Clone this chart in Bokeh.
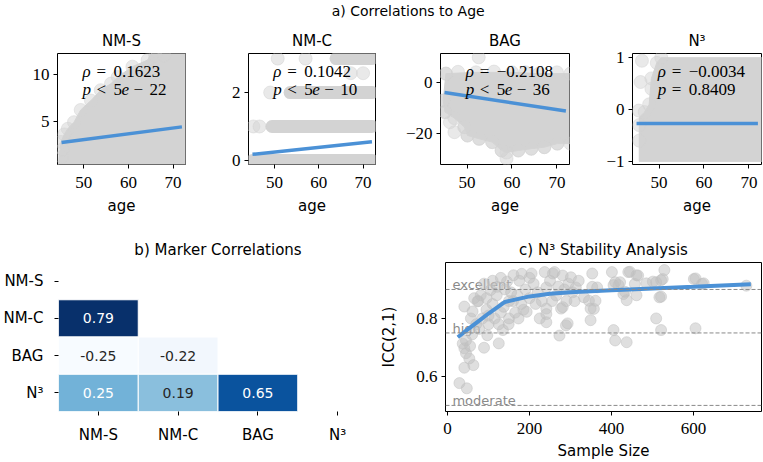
from bokeh.plotting import figure
from bokeh.layouts import column, row
from bokeh.models import Range1d, FixedTicker, FactorRange, LinearColorMapper, ColumnDataSource, Span
from bokeh.palettes import Blues256
from bokeh.core.properties import value
from bokeh.embed import file_html
from bokeh.resources import INLINE

SANS = "DejaVu Sans"
SERIF = "Liberation Serif"
GRAY = "#d3d3d3"
BLUE = "#4b91d6"

# ---------------- data: a) correlations to age ----------------
age_lim = (44.1, 72.8)
age_ticks = [50, 60, 70]

# NM-S: dense core outline and edge points
nms_core_x = [44.2, 44.9, 45.6, 46.4, 47.8, 49.3, 51.6, 53.8, 56.1, 57.6, 60.9, 64.3, 66.0, 73.0, 73.0]
nms_core_y = [0.0, 2.8, 3.6, 4.2, 4.9, 6.2, 7.2, 8.3, 9.0, 9.7, 10.8, 11.5, 13.0, 13.0, 0.0]
nms_pts_x = [44.9, 45.6, 46.4, 47.8, 49.3, 51.6, 53.8, 56.1, 57.6, 60.9, 64.3, 66.0, 68.0, 45.0, 45.2]
nms_pts_y = [2.8, 3.6, 4.2, 4.9, 6.2, 7.2, 8.3, 9.0, 9.7, 10.8, 11.5, 12.0, 12.0, 1.2, 2.0]
nms_fit_x = [45.0, 72.0]
nms_fit_y = [2.75, 4.4]

# NM-C: discrete levels (bands of overlapping points) + single points
nmc_band_y = [0, 1, 2, 3]
nmc_band_x0 = [45.0, 49.4, 53.5, 63.9]
nmc_band_x1 = [72.0, 72.0, 72.0, 72.0]
nmc_pts_x = [45.2, 46.6, 49.0, 50.7, 57.0, 67.2, 70.0]
nmc_pts_y = [1, 1, 2, 3, 3, 2.57, 2.57]
nmc_fit_x = [45.0, 72.0]
nmc_fit_y = [0.18, 0.55]

# BAG
bag_core_x = [44.7, 45.3, 52.0, 60.0, 66.0, 73.0, 73.0, 70.1, 67.2, 64.3, 61.4, 58.8, 57.7, 55.6, 52.7, 50.1, 49.4, 47.2, 45.1]
bag_core_y = [-7.1, 3.5, 4.0, 4.0, 3.5, 3.5, -24.0, -24.0, -25.4, -26.0, -26.7, -27.5, -26.7, -23.4, -22.1, -20.8, -17.5, -14.0, -11.6]
bag_pts_x = [52.6, 46.2, 47.2, 49.4, 50.1, 52.7, 55.6, 57.7, 58.8, 61.4, 64.3, 67.2, 70.1, 44.7, 45.1, 45.3, 48.0, 56.0, 63.0, 70.0]
bag_pts_y = [9.9, -15.6, -19.5, -17.5, -20.8, -22.1, -23.4, -26.7, -29.9, -26.7, -26.0, -25.4, -24.0, -7.1, -11.6, 3.5, 4.2, 4.3, 4.0, 4.0]
bag_fit_x = [45.0, 72.0]
bag_fit_y = [-3.9, -11.2]

# N3
n3_core_x = [45.6, 45.6, 46.8, 47.8, 48.3, 49.5, 50.5, 73.0, 73.0]
n3_core_y = [-1.0, -0.15, -0.05, 0.1, 0.6, 0.9, 1.0, 1.0, -1.0]
n3_pts_x = [46.2, 45.9, 45.5, 45.6, 45.6, 46.8, 47.8, 48.3, 48.3, 49.5, 50.5]
n3_pts_y = [0.94, 0.53, -0.02, -0.6, -0.3, -0.05, 0.1, 0.4, 0.6, 0.9, 1.0]
n3_fit_x = [45.0, 72.0]
n3_fit_y = [-0.27, -0.27]

rho_vals = ["0.1623", "0.1042", "\u22120.2108", "\u22120.0034"]
p_rel = ["<", "<", "<", "="]
p_vals = ["22", "10", "36", "0.8409"]

# ---------------- data: b) marker correlations ----------------
markers = ["NM-S", "NM-C", "BAG", "N\u00b3"]
heat_row = ["NM-C", "BAG", "BAG", "N\u00b3", "N\u00b3", "N\u00b3"]
heat_col = ["NM-S", "NM-S", "NM-C", "NM-S", "NM-C", "BAG"]
heat_val = [0.79, -0.25, -0.22, 0.25, 0.19, 0.65]

# ---------------- data: c) stability ----------------
stab_n = [29, 47, 41, 63, 53, 45, 41, 37, 45, 55, 89, 125, 97, 77, 60,
          41, 61, 73, 81, 105, 89, 121, 145, 161, 181, 57, 70, 85, 95, 110, 100, 115, 130, 135, 150,
          149, 137, 160, 170, 173, 185, 193, 190, 200, 205, 210, 220, 225, 230, 237, 241, 241, 241, 241,
          250, 257, 261, 265, 270, 273, 277, 281, 281, 289, 293, 295, 301, 305, 313, 320, 333, 345, 349,
          349, 353, 353, 357, 361, 365, 75, 65, 95, 120, 140, 155, 175, 110, 130, 100, 150, 200, 215, 180,
          165, 125, 255, 285, 310, 290,
          401, 405, 417, 409, 421, 429, 433, 437, 441, 445, 457, 461, 461, 465, 485, 501, 509, 517, 521,
          521, 525, 529, 509, 521, 405, 409, 437, 601, 605, 621, 625, 605, 729]
stab_icc = [0.577, 0.559, 0.630, 0.639, 0.662, 0.680, 0.697, 0.713, 0.724, 0.705, 0.699, 0.714, 0.742, 0.764, 0.745,
            0.841, 0.824, 0.859, 0.880, 0.898, 0.920, 0.909, 0.927, 0.949, 0.954, 0.80, 0.78, 0.80, 0.83, 0.85, 0.78, 0.80, 0.82, 0.76, 0.80,
            0.78, 0.84, 0.86, 0.88, 0.80, 0.83, 0.823, 0.90, 0.87, 0.955, 0.92, 0.89, 0.80, 0.86, 0.96, 0.834, 0.815, 0.787, 0.907,
            0.93, 0.955, 0.96, 0.879, 0.91, 0.741, 0.834, 0.948, 0.839, 0.776, 0.783, 0.92, 0.942, 0.89, 0.907, 0.93, 0.873, 0.861, 0.794,
            0.834, 0.955, 0.909, 0.833, 0.861, 0.907, 0.86, 0.87, 0.87, 0.88, 0.90, 0.89, 0.93, 0.93, 0.94, 0.81, 0.86, 0.94, 0.85, 0.85,
            0.82, 0.78, 0.86, 0.90, 0.86, 0.86,
            0.960, 0.915, 0.915, 0.925, 0.925, 0.884, 0.892, 0.863, 0.96, 0.961, 0.919, 0.949, 0.880, 0.948, 0.921, 0.927, 0.925, 0.873, 0.875,
            0.932, 0.936, 0.967, 0.800, 0.760, 0.760, 0.724, 0.718, 0.936, 0.938, 0.919, 0.921, 0.766, 0.913]
mean_n = [25, 50, 75, 100, 140, 200, 250, 300, 400, 500, 600, 740]
mean_icc = [0.735, 0.763, 0.790, 0.817, 0.857, 0.876, 0.885, 0.890, 0.897, 0.903, 0.909, 0.918]
icc_levels = [0.9, 0.75, 0.5]
icc_names = ["excellent", "high", "moderate"]


def style(p, xticks=None, yticks=None, xover=None, yover=None, s1=8, s2=6):
    if xticks is not None:
        p.xaxis.ticker = FixedTicker(ticks=xticks)
    if yticks is not None:
        p.yaxis.ticker = FixedTicker(ticks=yticks)
    if xover:
        p.xaxis.major_label_overrides = xover
    if yover:
        p.yaxis.major_label_overrides = yover
    for ax in p.axis:
        ax.major_tick_out = 4
        ax.major_tick_in = 0
        ax.minor_tick_line_color = None
        ax.axis_line_color = None
        ax.major_tick_line_color = "black"
        ax.major_label_text_font = SERIF
        ax.major_label_text_font_size = "17px"
        ax.major_label_text_color = "black"
        ax.major_label_standoff = 4
        ax.axis_label_text_font = SANS
        ax.axis_label_text_font_size = "15px"
        ax.axis_label_text_font_style = "normal"
        ax.axis_label_text_color = "black"
        ax.axis_label_standoff = 4
    p.xaxis.major_label_standoff = s1
    p.xaxis.axis_label_standoff = s2
    p.grid.visible = False
    p.outline_line_color = "black"
    p.outline_line_width = 1
    p.outline_line_alpha = 1
    p.title.align = "center"
    p.title.text_font = SANS
    p.title.text_font_size = "15px"
    p.title.text_font_style = "normal"
    p.title.text_color = "black"
    p.title.standoff = 8


def stats(p, xr, yr, rho, rel, pv):
    x0 = xr.start + 0.195 * (xr.end - xr.start)
    y1 = yr.start + 0.838 * (yr.end - yr.start)
    y2 = yr.start + 0.676 * (yr.end - yr.start)
    parts = [("\u03c1", True, 0, y1), ("=", False, 14, y1), (rho, False, 31, y1),
             ("p", True, 0, y2), (rel, False, 14, y2)]
    if rel == "<":
        parts += [("5", False, 31, y2), ("e", True, 39, y2), ("\u2212", False, 51, y2), (pv, False, 67, y2)]
    else:
        parts += [(pv, False, 31, y2)]
    for txt, it, dx, yy in parts:
        p.text(x=[x0], y=[yy], text=[txt], x_offset=dx, text_font=value(SERIF), text_font_size="17px",
               text_font_style="italic" if it else "normal", text_baseline="middle", text_align="left",
               text_color="black")


def top_fig(w, left, right, title, ylim):
    xr = Range1d(*age_lim)
    yr = Range1d(*ylim)
    p = figure(width=w, height=202, x_range=xr, y_range=yr, title=title, output_backend="svg",
               toolbar_location=None, min_border_left=left, min_border_right=right,
               min_border_top=33, min_border_bottom=58)
    p.xaxis.axis_label = "age"
    return p, xr, yr


# suptitle strip
sup = figure(width=762, height=20, x_range=Range1d(0, 1), y_range=Range1d(0, 1), output_backend="svg",
             toolbar_location=None, min_border=0, outline_line_color=None)
sup.axis.visible = False
sup.grid.visible = False
sup.text(x=[0.535], y=[0.5], text=["a) Correlations to Age"], text_align="center", text_baseline="middle",
         text_font=value(SANS), text_font_size="14px", text_color="black")

# a) four panels
f1, xr1, yr1 = top_fig(210, 57, 25, "NM-S", (0.4, 12.2))
f1.patch(nms_core_x, nms_core_y, color=GRAY)
f1.scatter(nms_pts_x, nms_pts_y, size=13, color=GRAY, alpha=0.5)
f1.line(nms_fit_x, nms_fit_y, color=BLUE, line_width=3.5)
style(f1, age_ticks, [5, 10])
stats(f1, xr1, yr1, rho_vals[0], p_rel[0], p_vals[0])

f2, xr2, yr2 = top_fig(190, 38, 25, "NM-C", (-0.12, 3.15))
f2.segment(x0=nmc_band_x0, x1=nmc_band_x1, y0=nmc_band_y, y1=nmc_band_y, line_width=13,
           line_cap="round", color=GRAY)
f2.scatter(nmc_pts_x, nmc_pts_y, size=13, color=GRAY, alpha=0.5)
f2.line(nmc_fit_x, nmc_fit_y, color=BLUE, line_width=3.5)
style(f2, age_ticks, [0, 2])
stats(f2, xr2, yr2, rho_vals[1], p_rel[1], p_vals[1])

f3, xr3, yr3 = top_fig(192, 40, 23, "BAG", (-32.2, 11.4))
f3.patch(bag_core_x, bag_core_y, color=GRAY)
f3.scatter(bag_pts_x, bag_pts_y, size=13, color=GRAY, alpha=0.5)
f3.scatter(bag_core_x, bag_core_y, size=13, color=GRAY, alpha=0.5)
f3.line(bag_fit_x, bag_fit_y, color=BLUE, line_width=3.5)
style(f3, age_ticks, [-20, 0], yover={-20: "\u221220", 0: "0"})
stats(f3, xr3, yr3, rho_vals[2], p_rel[2], p_vals[2])

f4, xr4, yr4 = top_fig(170, 40, 1, "N\u00b3", (-1.06, 1.08))
f4.patch(n3_core_x, n3_core_y, color=GRAY)
f4.scatter(n3_pts_x, n3_pts_y, size=13, color=GRAY, alpha=0.5)
f4.line(n3_fit_x, n3_fit_y, color=BLUE, line_width=3.5)
style(f4, age_ticks, [-1, 0, 1], yover={-1: "\u22121", 0: "0", 1: "1"})
stats(f4, xr4, yr4, rho_vals[3], p_rel[3], p_vals[3])

# b) heatmap
mapper = LinearColorMapper(palette=list(reversed(Blues256)), low=min(heat_val), high=max(heat_val))
hsrc = ColumnDataSource(dict(row=heat_row, col=heat_col, val=heat_val,
                             lab=["%.2f" % v for v in heat_val],
                             tc=["white" if v > 0.2 else "#262626" for v in heat_val]))
hm = figure(width=377, height=240, x_range=FactorRange(*markers), y_range=FactorRange(*reversed(markers)),
            title="b) Marker Correlations", output_backend="svg", toolbar_location=None,
            min_border_left=57, min_border_right=0, min_border_top=40, min_border_bottom=51)
hm.rect(x="col", y="row", width=1, height=1, source=hsrc, fill_color={"field": "val", "transform": mapper},
        line_color="white", line_width=1)
hm.text(x="col", y="row", text="lab", text_color="tc", source=hsrc, text_align="center",
        text_baseline="middle", text_font=value(SANS), text_font_size="14px")
style(hm, s1=10, s2=4)
hm.outline_line_color = None
for ax in hm.axis:
    ax.major_label_text_font = SANS
    ax.major_label_text_font_size = "15px"
hm.yaxis.major_label_standoff = 11

# c) stability
sxr = Range1d(-5, 766)
syr = Range1d(0.479, 0.993)
st = figure(width=385, height=240, x_range=sxr, y_range=syr, title="c) N\u00b3 Stability Analysis",
            output_backend="svg", toolbar_location=None, min_border_left=64, min_border_right=1,
            min_border_top=40, min_border_bottom=51)
for lv in icc_levels:
    st.add_layout(Span(location=lv, dimension="width", line_color="#8a8a8a", line_dash="4 2", line_width=1))
st.text(x=[sxr.start + 0.022 * (sxr.end - sxr.start)] * len(icc_levels), y=icc_levels, text=icc_names,
        text_baseline="bottom", text_align="left", text_font=value(SANS), text_font_size="13px",
        text_color="#8a8a8a", y_offset=3)
st.scatter(stab_n, stab_icc, size=11, color="#bfbfbf", alpha=0.5)
st.line(mean_n, mean_icc, color=BLUE, line_width=4)
style(st, [0, 200, 400, 600], [0.6, 0.8], s1=7, s2=5)
st.xaxis.axis_label = "Sample Size"
st.yaxis.axis_label = "ICC(2,1)"
st.yaxis.axis_label_standoff = 15

layout = column(sup, row(f1, f2, f3, f4), row(hm, st))
open("out.html", "w").write(file_html(layout, INLINE))
